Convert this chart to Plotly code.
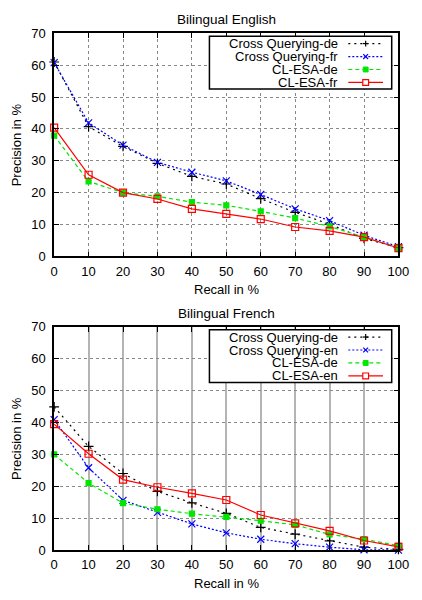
import plotly.graph_objects as go

# Recall levels (x) shared by every curve
recall = [0, 10, 20, 30, 40, 50, 60, 70, 80, 90, 100]

# Bilingual English: precision values (%)
en_cq_de = [61.0, 40.7, 34.5, 29.2, 25.1, 22.7, 18.1, 13.8, 10.1, 5.6, 2.7]
en_cq_fr = [60.8, 41.9, 34.9, 29.5, 26.4, 23.7, 19.4, 14.9, 11.2, 6.6, 3.0]
en_esa_de = [37.9, 23.5, 20.0, 18.8, 17.0, 16.0, 14.1, 12.0, 9.4, 6.0, 2.6]
en_esa_fr = [40.4, 25.6, 20.0, 18.0, 14.9, 13.3, 11.7, 9.2, 8.0, 6.0, 2.6]

# Bilingual French: precision values (%)
fr_cq_de = [44.9, 32.5, 24.0, 18.4, 14.8, 11.5, 7.1, 5.0, 2.9, 0.9, 0.2]
fr_cq_en = [40.9, 25.8, 15.6, 11.8, 8.2, 5.4, 3.4, 2.0, 0.9, 0.1, 0.0]
fr_esa_de = [30.0, 21.0, 14.7, 12.8, 11.4, 10.4, 9.2, 7.9, 4.9, 3.4, 1.4]
fr_esa_en = [39.5, 30.2, 22.1, 19.7, 17.8, 15.7, 11.0, 8.4, 6.0, 3.0, 1.0]

panel_titles = ["Bilingual English", "Bilingual French"]
x_title = "Recall in %"
y_title = "Precision in %"
x_ticks = [0, 10, 20, 30, 40, 50, 60, 70, 80, 90, 100]
y_ticks = [0, 10, 20, 30, 40, 50, 60, 70]

W, H = 422, 600
FONT = "Liberation Sans, Arial, Helvetica, sans-serif"
FS = 13

# series styles: (color, dash, marker symbol, marker size)
STY = {
    "cq_de": ("#000000", "2px,4px", "cross-thin-open", 7),
    "cq_x": ("#0000ff", "2px,2px", "x-thin-open", 7),
    "esa_de": ("#00e600", "4px,3px", "square", 5),
    "esa_x": ("#ff0000", "solid", "square-open", 7),
}

panels = [
    {
        "series": [("Cross Querying-de", en_cq_de, "cq_de"),
                   ("Cross Querying-fr", en_cq_fr, "cq_x"),
                   ("CL-ESA-de", en_esa_de, "esa_de"),
                   ("CL-ESA-fr", en_esa_fr, "esa_x")],
        "top": 27, "bottom": 255.7, "xgrid_dash": "dot", "xgrid_col": "#888888", "xgrid_w": 1,
    },
    {
        "series": [("Cross Querying-de", fr_cq_de, "cq_de"),
                   ("Cross Querying-en", fr_cq_en, "cq_x"),
                   ("CL-ESA-de", fr_esa_de, "esa_de"),
                   ("CL-ESA-en", fr_esa_en, "esa_x")],
        "top": 328, "bottom": 557, "xgrid_dash": "solid", "xgrid_col": "#b4b4b4", "xgrid_w": 1.5,
    },
]

LEFT, RIGHT = 52, 409


def px(x):
    return x / W


def py(y):
    return 1 - y / H


def label(text, x, y, xanchor="center", size=FS, angle=0):
    return dict(text=text, x=px(x), y=py(y), xref="paper", yref="paper",
                xanchor=xanchor, yanchor="middle", showarrow=False, textangle=angle,
                font=dict(family=FONT, size=size, color="#000000"))


fig = go.Figure()
shapes = []
annotations = []

for i, p in enumerate(panels):
    sfx = "" if i == 0 else str(i + 1)
    for name, vals, key in p["series"]:
        col, dash, sym, msz = STY[key]
        fig.add_trace(go.Scatter(
            x=recall, y=vals, name=name, mode="lines+markers",
            xaxis="x" + sfx, yaxis="y" + sfx,
            line=dict(color=col, width=1.2, dash=dash),
            marker=dict(symbol=sym, size=msz, color=col,
                        line=dict(color=col, width=1.2)),
            cliponaxis=False, showlegend=False,
        ))

    axis_common = dict(
        showline=True, linecolor="#000000", linewidth=1.5, mirror="ticks",
        ticks="inside", ticklen=5, tickcolor="#000000", tickwidth=1,
        tickfont=dict(family=FONT, size=FS, color="#000000"),
        zeroline=False,
    )
    fig.layout["xaxis" + sfx] = dict(
        axis_common, domain=[px(LEFT), px(RIGHT)], range=[0, 100],
        tickvals=x_ticks, anchor="y" + sfx, ticklabelstandoff=2,
        showgrid=True, gridcolor=p["xgrid_col"], griddash=p["xgrid_dash"],
        gridwidth=p["xgrid_w"],
    )
    fig.layout["yaxis" + sfx] = dict(
        axis_common, domain=[py(p["bottom"]), py(p["top"])], range=[0, 70],
        tickvals=y_ticks, anchor="x" + sfx, ticklabelstandoff=4,
        showgrid=True, gridcolor="#888888", griddash="dot", gridwidth=1,
    )

    top, bot = p["top"], p["bottom"]
    mid_x = (LEFT + RIGHT) / 2
    annotations.append(label(panel_titles[i], mid_x, top - 14, size=13.5))
    annotations.append(label(x_title, mid_x, bot + 34))
    annotations.append(label(y_title, 13, (top + bot) / 2, angle=-90))

    # key box in the upper right corner, gnuplot style (label, then sample)
    bx0, bx1 = 213, 402
    by0 = top + 3
    by1 = by0 + 54
    shapes.append(dict(type="rect", xref="paper", yref="paper",
                       x0=px(bx0), x1=px(bx1), y0=py(by0), y1=py(by1),
                       fillcolor="#ffffff", line=dict(color="#000000", width=1.5),
                       layer="above"))
    for j, (name, vals, key) in enumerate(p["series"]):
        col, dash, sym, msz = STY[key]
        ry = by0 + 7.5 + j * 13.3
        annotations.append(label(name, 348, ry, xanchor="right"))
        shapes.append(dict(type="line", xref="paper", yref="paper",
                           x0=px(357), x1=px(393), y0=py(ry), y1=py(ry),
                           line=dict(color=col, width=1.2, dash=dash), layer="above"))
        mx = 375
        if key == "cq_de":
            shapes.append(dict(type="line", xref="paper", yref="paper", x0=px(mx - 3), x1=px(mx + 3),
                               y0=py(ry), y1=py(ry), line=dict(color=col, width=1.2), layer="above"))
            shapes.append(dict(type="line", xref="paper", yref="paper", x0=px(mx), x1=px(mx),
                               y0=py(ry - 3), y1=py(ry + 3), line=dict(color=col, width=1.2), layer="above"))
        elif key == "cq_x":
            shapes.append(dict(type="line", xref="paper", yref="paper", x0=px(mx - 2.5), x1=px(mx + 2.5),
                               y0=py(ry - 2.5), y1=py(ry + 2.5), line=dict(color=col, width=1.2), layer="above"))
            shapes.append(dict(type="line", xref="paper", yref="paper", x0=px(mx - 2.5), x1=px(mx + 2.5),
                               y0=py(ry + 2.5), y1=py(ry - 2.5), line=dict(color=col, width=1.2), layer="above"))
        elif key == "esa_de":
            shapes.append(dict(type="rect", xref="paper", yref="paper", x0=px(mx - 2.5), x1=px(mx + 2.5),
                               y0=py(ry - 2.5), y1=py(ry + 2.5), fillcolor=col,
                               line=dict(color=col, width=1), layer="above"))
        else:
            shapes.append(dict(type="rect", xref="paper", yref="paper", x0=px(mx - 3), x1=px(mx + 3),
                               y0=py(ry - 3), y1=py(ry + 3), fillcolor="#ffffff",
                               line=dict(color=col, width=1.2), layer="above"))

fig.update_layout(
    width=W, height=H,
    margin=dict(l=0, r=0, t=0, b=0),
    paper_bgcolor="#ffffff", plot_bgcolor="#ffffff",
    shapes=shapes, annotations=annotations,
    font=dict(family=FONT, color="#000000"),
)

fig.write_html("out.html")
